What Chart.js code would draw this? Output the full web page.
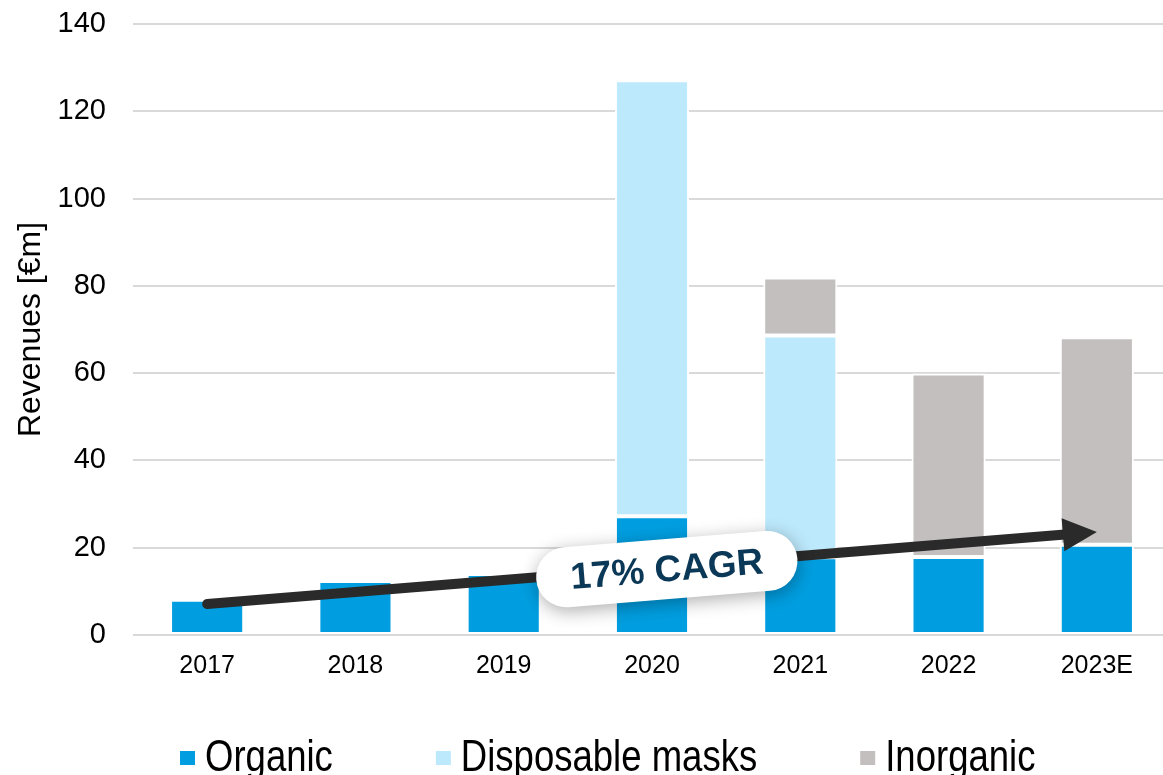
<!DOCTYPE html>
<html>
<head>
<meta charset="utf-8">
<script src="https://cdn.jsdelivr.net/npm/chart.js@4/dist/chart.umd.min.js"></script>
<style>
  html, body { margin: 0; padding: 0; background: #ffffff; overflow: hidden; }
  #wrap { width: 1171px; height: 775px; }
</style>
</head>
<body>
<div id="wrap"><canvas id="c" width="1171" height="775"></canvas></div>
<script>
// Revenues by year, €m, split by source
const categories = ['2017', '2018', '2019', '2020', '2021', '2022', '2023E'];
const organic    = [8.1, 12.4, 14.0, 27.2, 17.8, 17.9, 20.7];
const masks      = [null, null, null, 99.9, 50.8, null, null];
const inorganic  = [null, null, null, null, 13.3, 42.0, 47.5];
const seriesNames = ['Organic', 'Disposable masks', 'Inorganic'];
const yMin = 0, yMax = 140, yStep = 20;

// Growth trend arrow: [category index, €m]
const trendFrom = [0, 7.1];
const trendTo   = [6, 23.6];
const trendLabel = '17% CAGR';
const trendLabelAt = [3.1, 15.1];

const COLORS = ['#009ee0', '#bde9fc', '#c3bfbe'];
const FONT = '"Liberation Sans", Arial, Helvetica, sans-serif';

// Trend arrow with its rounded label
const trendPlugin = {
  id: 'trend',
  afterDatasetsDraw(chart) {
    const { ctx, scales: { x, y } } = chart;
    const x0 = x.getPixelForValue(trendFrom[0]), y0 = y.getPixelForValue(trendFrom[1]);
    const x1 = x.getPixelForValue(trendTo[0]),   y1 = y.getPixelForValue(trendTo[1]);
    const ang = Math.atan2(y1 - y0, x1 - x0);
    const headLen = 34, headHalf = 16.5;
    const bx = x1 - headLen * Math.cos(ang), by = y1 - headLen * Math.sin(ang);
    ctx.save();
    ctx.strokeStyle = '#2a2a2a';
    ctx.fillStyle = '#2a2a2a';
    ctx.lineWidth = 10;
    ctx.lineCap = 'round';
    ctx.beginPath();
    ctx.moveTo(x0, y0);
    ctx.lineTo(bx + 2 * Math.cos(ang), by + 2 * Math.sin(ang));
    ctx.stroke();
    ctx.beginPath();
    ctx.moveTo(x1, y1);
    ctx.lineTo(bx - headHalf * Math.sin(ang), by + headHalf * Math.cos(ang));
    ctx.lineTo(bx + headHalf * Math.sin(ang), by - headHalf * Math.cos(ang));
    ctx.closePath();
    ctx.fill();

    // label pill
    const cx = x.getPixelForValue(trendLabelAt[0]), cy = y.getPixelForValue(trendLabelAt[1]);
    const w = 262, h = 60, r = 30;
    ctx.translate(cx, cy);
    ctx.rotate(ang);
    ctx.shadowColor = 'rgba(0,0,0,0.32)';
    ctx.shadowBlur = 18;
    ctx.shadowOffsetX = 1;
    ctx.shadowOffsetY = 4;
    ctx.fillStyle = '#ffffff';
    ctx.beginPath();
    ctx.roundRect(-w / 2, -h / 2, w, h, r);
    ctx.fill();
    ctx.shadowColor = 'transparent';
    ctx.fillStyle = '#0c3858';
    ctx.font = 'bold 37px ' + FONT;
    ctx.textAlign = 'center';
    ctx.textBaseline = 'middle';
    ctx.fillText(trendLabel, 0, 2);
    ctx.restore();
  }
};

// Bottom legend in a narrow setting of the label font
const legendPlugin = {
  id: 'bottomLegend',
  afterDraw(chart) {
    const { ctx } = chart;
    const sx = 0.83;
    let xPos = 180;
    ctx.save();
    ctx.font = '44px ' + FONT;
    ctx.textBaseline = 'alphabetic';
    chart.data.datasets.forEach((ds) => {
      ctx.fillStyle = ds.backgroundColor;
      ctx.fillRect(xPos, 751, 15, 14);
      const tx = xPos + 25;
      ctx.save();
      ctx.translate(tx, 771);
      ctx.scale(sx, 1);
      ctx.fillStyle = '#000000';
      ctx.fillText(ds.label, 0, 0);
      ctx.restore();
      xPos = tx + ctx.measureText(ds.label).width * sx + 103;
    });
    ctx.restore();
  }
};

const mkSet = (label, data, color) => ({
  label, data,
  backgroundColor: color,
  borderColor: '#ffffff',
  borderWidth: 2,
  borderSkipped: false,
  categoryPercentage: 1,
  barPercentage: 0.5
});

new Chart(document.getElementById('c'), {
  type: 'bar',
  data: {
    labels: categories,
    datasets: [
      mkSet(seriesNames[0], organic, COLORS[0]),
      mkSet(seriesNames[1], masks, COLORS[1]),
      mkSet(seriesNames[2], inorganic, COLORS[2])
    ]
  },
  options: {
    responsive: false,
    animation: false,
    devicePixelRatio: 1,
    layout: { padding: { top: 24, left: 0, right: 0, bottom: 60 } },
    plugins: {
      legend: { display: false },
      tooltip: { enabled: false }
    },
    scales: {
      x: {
        stacked: true,
        grid: { display: false, drawTicks: false },
        border: { display: false },
        ticks: { color: '#000', font: { family: FONT, size: 25 }, padding: 16, maxRotation: 0 },
        afterFit(s) { s.height = 80; }
      },
      y: {
        stacked: true,
        min: yMin, max: yMax,
        grid: { color: '#d9d9d9', lineWidth: 2, drawTicks: false },
        border: { display: false },
        ticks: { stepSize: yStep, color: '#000', font: { family: FONT, size: 29 }, padding: 27 },
        title: {
          display: true, text: 'Revenues [€m]', color: '#000',
          font: { family: FONT, size: 32, lineHeight: 1 }, padding: { top: 15, bottom: 0 }
        },
        afterFit(s) { s.width = 133; s.paddingTop = 0; s.paddingBottom = 0; }
      }
    }
  },
  plugins: [trendPlugin, legendPlugin]
});
</script>
</body>
</html>
